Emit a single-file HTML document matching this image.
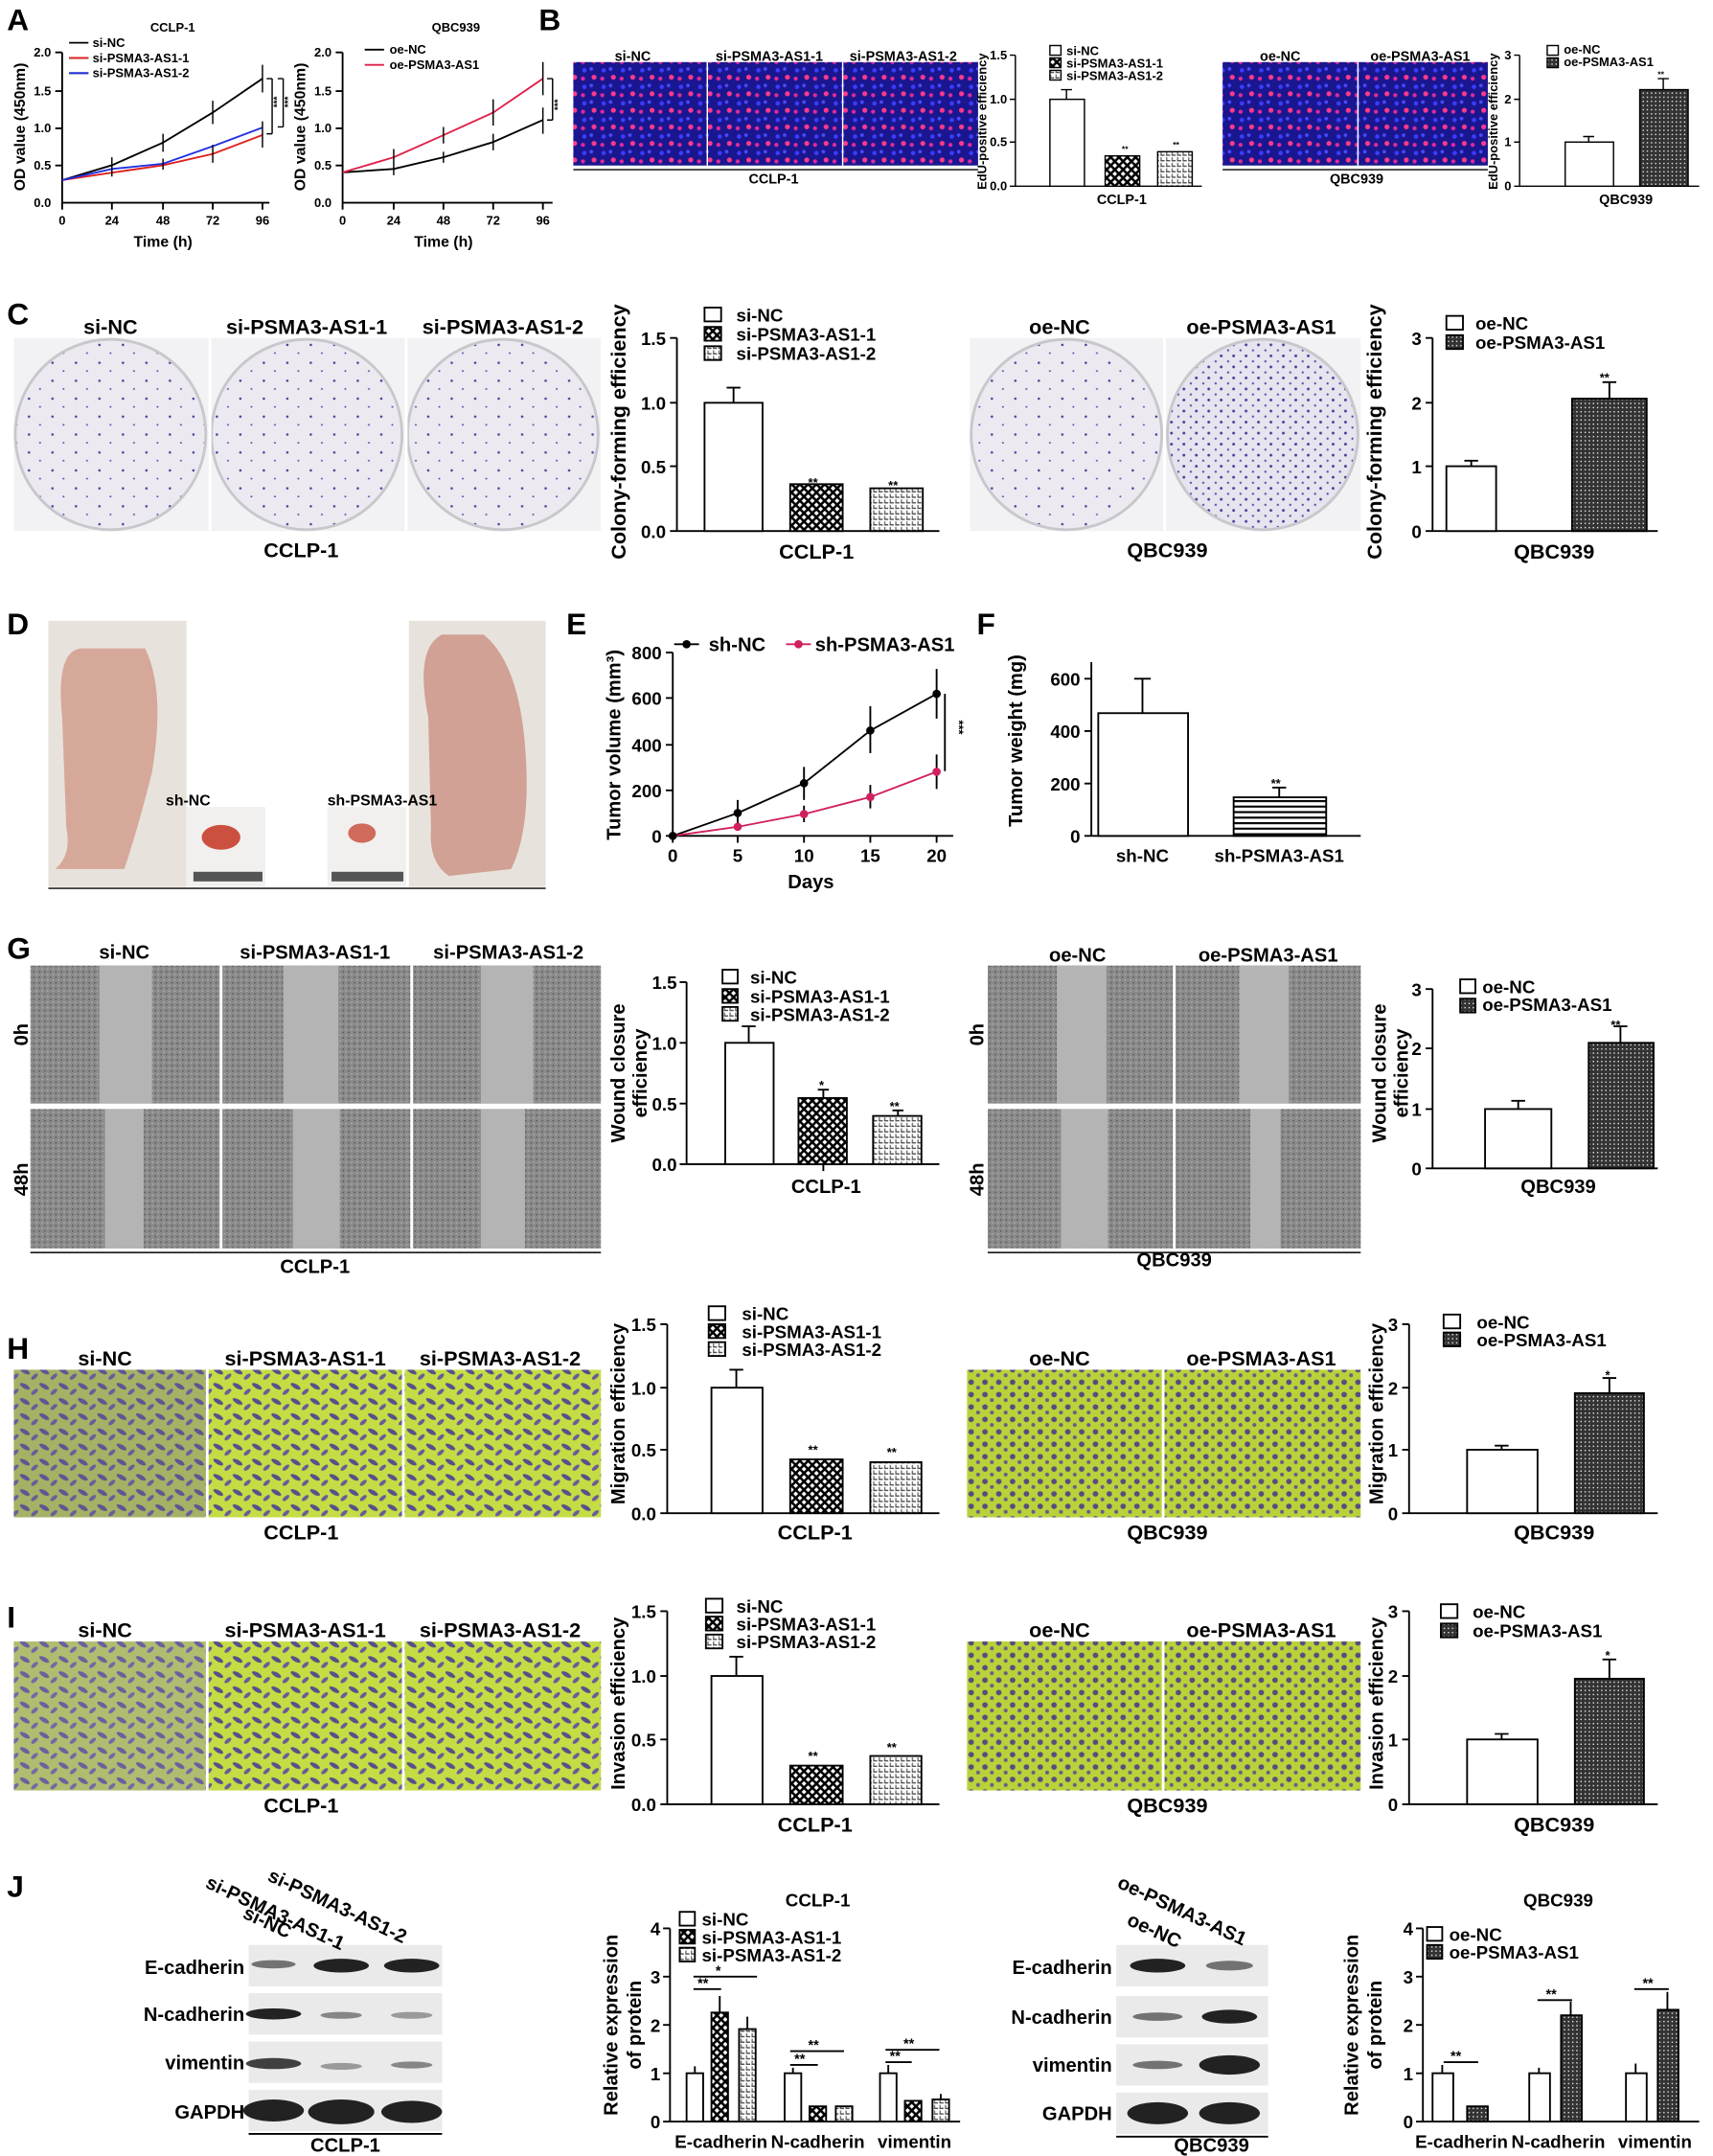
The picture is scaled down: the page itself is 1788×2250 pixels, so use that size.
<!DOCTYPE html>
<html><head><meta charset="utf-8"><style>
html,body{margin:0;padding:0;background:#fff}
svg{display:block}
text{font-family:"Liberation Sans",Arial,sans-serif;font-weight:bold;fill:#000}
</style></head><body>
<svg width="1788" height="2250" viewBox="0 0 1240 1563" preserveAspectRatio="none" xmlns="http://www.w3.org/2000/svg">
<defs>
<pattern id="cross" width="6" height="6" patternUnits="userSpaceOnUse"><rect width="6" height="6" fill="#fff"/><path d="M0 0L6 6M6 0L0 6" stroke="#000" stroke-width="1.8"/></pattern>
<pattern id="dots" width="4" height="4" patternUnits="userSpaceOnUse"><rect width="4" height="4" fill="#fff"/><rect x="0" y="0" width="3" height="1" fill="#555"/><rect x="0" y="2" width="1" height="2" fill="#777"/></pattern>
<pattern id="dark" width="3" height="3" patternUnits="userSpaceOnUse"><rect width="3" height="3" fill="#333"/><rect x="1" y="1" width="1" height="1" fill="#ddd"/></pattern>
<pattern id="hs" width="4" height="4" patternUnits="userSpaceOnUse"><rect width="4" height="4" fill="#fff"/><rect width="4" height="1.5" fill="#000"/></pattern>
<pattern id="fluo" width="14" height="12" patternUnits="userSpaceOnUse"><rect width="14" height="12" fill="#1a1690"/><circle cx="3" cy="3" r="1.6" fill="#3c3cff"/><circle cx="10" cy="8" r="1.8" fill="#ff3a8a"/><circle cx="8" cy="2" r="1.3" fill="#4a4aff"/><circle cx="2" cy="9" r="1.5" fill="#e02a9a"/></pattern>
<pattern id="colony" width="17" height="13" patternUnits="userSpaceOnUse"><rect width="17" height="13" fill="#eceaf0"/><circle cx="4" cy="3" r="0.9" fill="#5040a0"/><circle cx="12" cy="9" r="0.7" fill="#6050b0"/></pattern>
<pattern id="colony2" width="9" height="8" patternUnits="userSpaceOnUse"><rect width="9" height="8" fill="#e6e4ee"/><circle cx="2" cy="2" r="1" fill="#4a3a9a"/><circle cx="7" cy="6" r="0.8" fill="#5a4aa8"/></pattern>
<pattern id="wound" width="4" height="4" patternUnits="userSpaceOnUse"><rect width="4" height="4" fill="#8a8a8a"/><rect width="1" height="1" fill="#555"/><rect x="2" y="2" width="1" height="1" fill="#b0b0b0"/></pattern>
<pattern id="trans" width="14" height="11" patternUnits="userSpaceOnUse"><rect width="14" height="11" fill="#c5dc45"/><ellipse cx="4" cy="4" rx="4" ry="1.6" fill="#55508a" transform="rotate(30 4 4)"/><ellipse cx="11" cy="8" rx="3" ry="1.4" fill="#6a5a98" transform="rotate(-40 11 8)"/></pattern>
<pattern id="trans2" width="10" height="9" patternUnits="userSpaceOnUse"><rect width="10" height="9" fill="#b9d23a"/><circle cx="3" cy="3" r="2" fill="#5a4a80"/><circle cx="8" cy="7" r="1.4" fill="#6a5a88"/></pattern>
</defs>
<rect width="1240" height="1563" fill="#fff"/>

<!-- panel letters -->
<g font-size="22"><text x="5" y="22">A</text><text x="390" y="22">B</text><text x="5" y="235">C</text><text x="5" y="460">D</text><text x="410" y="460">E</text><text x="707" y="460">F</text><text x="5" y="695">G</text><text x="5" y="985">H</text><text x="5" y="1180">I</text><text x="5" y="1375">J</text></g>

<!-- A left -->
<g stroke="#000" fill="none" stroke-width="1.3">
<path d="M45 38V147H195M40 38H45M40 66H45M40 93H45M40 120H45M45 147V152M81 147V152M118 147V152M154 147V152M190 147V152"/>
<polyline points="45,130.6 81,119.8 118,103.4 154,81.6 190,57"/>
<polyline points="45,130.6 81,125.2 118,119.8 154,111.6 190,97.9" stroke="#e02020"/>
<polyline points="45,130.6 81,122.5 118,118.7 154,106 190,92.5" stroke="#2030e0"/>
<path d="M81 114V125M118 97V110M154 73V90M190 47V67M154 105V118M190 88V107M118 115V123M81 122V128" stroke-width="1"/>
<path d="M197 57V97M197 57H193M197 97H193M205 57V92M205 57H201M205 92H201" stroke-width="1"/>
</g>
<g font-size="9"><text x="37" y="41" text-anchor="end">2.0</text><text x="37" y="69" text-anchor="end">1.5</text><text x="37" y="96" text-anchor="end">1.0</text><text x="37" y="123" text-anchor="end">0.5</text><text x="37" y="150" text-anchor="end">0.0</text>
<text x="45" y="163" text-anchor="middle">0</text><text x="81" y="163" text-anchor="middle">24</text><text x="118" y="163" text-anchor="middle">48</text><text x="154" y="163" text-anchor="middle">72</text><text x="190" y="163" text-anchor="middle">96</text>
<text x="118" y="179" text-anchor="middle" font-size="11">Time (h)</text><text x="125" y="23" text-anchor="middle">CCLP-1</text>
<text transform="translate(18 92) rotate(-90)" text-anchor="middle" font-size="11">OD value (450nm)</text>
<text x="67" y="34">si-NC</text><text x="67" y="45" fill="#000">si-PSMA3-AS1-1</text><text x="67" y="56">si-PSMA3-AS1-2</text>
<text transform="translate(203 78) rotate(-90)" font-size="7">***</text><text transform="translate(211 78) rotate(-90)" font-size="7">***</text></g>
<path d="M50 31H64M50 42H64M50 53H64" stroke-width="1.3" stroke="#000"/><path d="M50 42H64" stroke="#e02020" stroke-width="1.3"/><path d="M50 53H64" stroke="#2030e0" stroke-width="1.3"/>

<!-- A right -->
<g stroke="#000" fill="none" stroke-width="1.3">
<path d="M248 38V147H400M243 38H248M243 66H248M243 93H248M243 120H248M248 147V152M285 147V152M321 147V152M357 147V152M393 147V152"/>
<polyline points="248,125 285,122.5 321,114 357,103 393,87"/>
<polyline points="248,125 285,114 321,98 357,81.6 393,57" stroke="#e0204a"/>
<path d="M285 118V127M321 110V118M357 97V109M393 78V97M285 108V120M321 92V104M357 72V91M393 45V69" stroke-width="1"/>
<path d="M400 57V87M400 57H396M400 87H396" stroke-width="1"/>
</g>
<g font-size="9"><text x="240" y="41" text-anchor="end">2.0</text><text x="240" y="69" text-anchor="end">1.5</text><text x="240" y="96" text-anchor="end">1.0</text><text x="240" y="123" text-anchor="end">0.5</text><text x="240" y="150" text-anchor="end">0.0</text>
<text x="248" y="163" text-anchor="middle">0</text><text x="285" y="163" text-anchor="middle">24</text><text x="321" y="163" text-anchor="middle">48</text><text x="357" y="163" text-anchor="middle">72</text><text x="393" y="163" text-anchor="middle">96</text>
<text x="321" y="179" text-anchor="middle" font-size="11">Time (h)</text><text x="330" y="23" text-anchor="middle">QBC939</text>
<text transform="translate(221 92) rotate(-90)" text-anchor="middle" font-size="11">OD value (450nm)</text>
<text x="282" y="39">oe-NC</text><text x="282" y="50">oe-PSMA3-AS1</text><text transform="translate(406 80) rotate(-90)" font-size="7">***</text></g>
<path d="M264 36H278" stroke="#000" stroke-width="1.3"/><path d="M264 47H278" stroke="#e0204a" stroke-width="1.3"/>

<!-- B images -->
<rect x="415" y="45" width="293" height="75" fill="url(#fluo)"/>
<path d="M512 45V120M610 45V120" stroke="#fff" stroke-width="1"/>
<path d="M415 123H708" stroke="#000"/>
<g font-size="10"><text x="445" y="44">si-NC</text><text x="518" y="44">si-PSMA3-AS1-1</text><text x="615" y="44">si-PSMA3-AS1-2</text></g>
<text x="560" y="133" font-size="10" text-anchor="middle">CCLP-1</text>
<rect x="885" y="45" width="192" height="75" fill="url(#fluo)"/><path d="M983 45V120" stroke="#fff"/>
<path d="M885 123H1077" stroke="#000"/>
<text x="912" y="44" font-size="10">oe-NC</text><text x="992" y="44" font-size="10">oe-PSMA3-AS1</text>
<text x="982" y="133" font-size="10" text-anchor="middle">QBC939</text>
<!-- B bars -->
<g stroke="#000" stroke-width="1">
<path d="M735 40V135H870M731 40H735M731 72H735M731 103H735M731 135H735" fill="none"/>
<rect x="760" y="72" width="25" height="63" fill="#fff"/><rect x="800" y="113" width="25" height="22" fill="url(#cross)"/><rect x="838" y="110" width="25" height="25" fill="url(#dots)"/>
<path d="M772 72V65M768 65H776" fill="none"/>
<path d="M1100 40V135H1230M1096 40H1100M1096 72H1100M1096 103H1100M1096 135H1100" fill="none"/>
<rect x="1133" y="103" width="35" height="32" fill="#fff"/><rect x="1187" y="65" width="35" height="70" fill="url(#dark)"/>
<path d="M1150 103V99M1146 99H1154M1204 65V57M1200 57H1208" fill="none"/>
<rect x="760" y="33" width="8" height="7" fill="#fff"/><rect x="760" y="42" width="8" height="7" fill="url(#cross)"/><rect x="760" y="51" width="8" height="7" fill="url(#dots)"/>
<rect x="1120" y="33" width="8" height="7" fill="#fff"/><rect x="1120" y="42" width="8" height="7" fill="url(#dark)"/>
</g>
<g font-size="9"><text x="729" y="43" text-anchor="end">1.5</text><text x="729" y="75" text-anchor="end">1.0</text><text x="729" y="106" text-anchor="end">0.5</text><text x="729" y="138" text-anchor="end">0.0</text>
<text x="772" y="40">si-NC</text><text x="772" y="49">si-PSMA3-AS1-1</text><text x="772" y="58">si-PSMA3-AS1-2</text><text x="812" y="148" text-anchor="middle" font-size="10">CCLP-1</text>
<text transform="translate(714 88) rotate(-90)" text-anchor="middle">EdU-positive efficiency</text>
<text x="1094" y="43" text-anchor="end">3</text><text x="1094" y="75" text-anchor="end">2</text><text x="1094" y="106" text-anchor="end">1</text><text x="1094" y="138" text-anchor="end">0</text>
<text x="1132" y="39">oe-NC</text><text x="1132" y="48">oe-PSMA3-AS1</text><text x="1177" y="148" text-anchor="middle" font-size="10">QBC939</text>
<text transform="translate(1084 88) rotate(-90)" text-anchor="middle">EdU-positive efficiency</text>
<text x="812" y="110" font-size="6">**</text><text x="849" y="107" font-size="6">**</text><text x="1200" y="56" font-size="6">**</text></g>

<!-- C images -->
<rect x="10" y="245" width="425" height="140" fill="#f2f2f4"/>
<g fill="url(#colony)" stroke="#c8c8cc" stroke-width="2"><circle cx="80" cy="315" r="69"/><circle cx="222" cy="315" r="69"/><circle cx="364" cy="315" r="69"/></g>
<path d="M152 245V385M294 245V385" stroke="#fff" stroke-width="2"/>
<rect x="702" y="245" width="283" height="140" fill="#f2f2f4"/>
<g stroke="#c8c8cc" stroke-width="2"><circle cx="772" cy="315" r="69" fill="url(#colony)"/><circle cx="914" cy="315" r="69" fill="url(#colony2)"/></g>
<path d="M843 245V385" stroke="#fff" stroke-width="2"/>
<g font-size="15"><text x="80" y="242" text-anchor="middle">si-NC</text><text x="222" y="242" text-anchor="middle">si-PSMA3-AS1-1</text><text x="364" y="242" text-anchor="middle">si-PSMA3-AS1-2</text>
<text x="218" y="404" text-anchor="middle">CCLP-1</text><text x="767" y="242" text-anchor="middle">oe-NC</text><text x="913" y="242" text-anchor="middle">oe-PSMA3-AS1</text><text x="845" y="404" text-anchor="middle">QBC939</text></g>
<g stroke="#000" stroke-width="1.3">
<path d="M490 245V385H680M485 245H490M485 292H490M485 338H490M485 385H490" fill="none"/>
<rect x="510" y="292" width="42" height="93" fill="#fff"/><rect x="572" y="351" width="38" height="34" fill="url(#cross)"/><rect x="630" y="354" width="38" height="31" fill="url(#dots)"/>
<path d="M531 292V281M526 281H536" fill="none"/>
<path d="M1037 245V385H1200M1032 245H1037M1032 292H1037M1032 338H1037M1032 385H1037" fill="none"/>
<rect x="1047" y="338" width="36" height="47" fill="#fff"/><rect x="1138" y="289" width="54" height="96" fill="url(#dark)"/>
<path d="M1065 338V334M1060 334H1070M1165 289V277M1160 277H1170" fill="none"/>
<rect x="510" y="223" width="12" height="10" fill="#fff"/><rect x="510" y="237" width="12" height="10" fill="url(#cross)"/><rect x="510" y="251" width="12" height="10" fill="url(#dots)"/>
<rect x="1047" y="229" width="12" height="10" fill="#fff"/><rect x="1047" y="243" width="12" height="10" fill="url(#dark)"/>
</g>
<g font-size="13"><text x="482" y="250" text-anchor="end">1.5</text><text x="482" y="297" text-anchor="end">1.0</text><text x="482" y="343" text-anchor="end">0.5</text><text x="482" y="390" text-anchor="end">0.0</text>
<text x="1029" y="250" text-anchor="end">3</text><text x="1029" y="297" text-anchor="end">2</text><text x="1029" y="343" text-anchor="end">1</text><text x="1029" y="390" text-anchor="end">0</text>
<text x="533" y="233">si-NC</text><text x="533" y="247">si-PSMA3-AS1-1</text><text x="533" y="261">si-PSMA3-AS1-2</text>
<text x="1068" y="239">oe-NC</text><text x="1068" y="253">oe-PSMA3-AS1</text>
<text x="591" y="405" text-anchor="middle" font-size="15">CCLP-1</text><text x="1125" y="405" text-anchor="middle" font-size="15">QBC939</text>
<text transform="translate(453 313) rotate(-90)" text-anchor="middle" font-size="15">Colony-forming efficiency</text>
<text transform="translate(1000 313) rotate(-90)" text-anchor="middle" font-size="15">Colony-forming efficiency</text>
<text x="585" y="353" font-size="9">**</text><text x="643" y="355" font-size="9">**</text><text x="1158" y="277" font-size="9">**</text></g>

<!-- D -->
<rect x="35" y="450" width="100" height="193" fill="#e8e2dc"/>
<rect x="296" y="450" width="99" height="193" fill="#e8e2dc"/>
<path d="M60 470 Q40 470 45 520 L48 600 Q52 620 40 630 L90 630 Q100 600 110 560 Q120 500 105 470 Z" fill="#d6a89a"/>
<path d="M320 460 Q300 470 310 520 L312 600 Q310 625 325 635 L370 630 Q385 600 380 540 Q375 480 350 460 Z" fill="#d0a194"/>
<rect x="135" y="585" width="57" height="58" fill="#f2f0ee"/><ellipse cx="160" cy="607" rx="14" ry="9" fill="#cc5040"/><rect x="140" y="632" width="50" height="7" fill="#555"/>
<rect x="237" y="585" width="57" height="58" fill="#f2f0ee"/><ellipse cx="262" cy="604" rx="10" ry="7" fill="#d06a5a"/><rect x="240" y="632" width="52" height="7" fill="#555"/>
<path d="M35 644H395" stroke="#000"/>
<text x="120" y="584" font-size="11">sh-NC</text><text x="237" y="584" font-size="11">sh-PSMA3-AS1</text>

<!-- E -->
<g stroke="#000" stroke-width="1.3" fill="none">
<path d="M487 473V606H690M482 473H487M482 506H487M482 540H487M482 573H487M482 606H487M487 606V611M534 606V611M582 606V611M630 606V611M678 606V611"/>
<polyline points="487,606 534,589.4 582,567.8 630,529.6 678,503"/>
<polyline points="487,606 534,599.4 582,590.2 630,577.8 678,559.5" stroke="#d02060"/>
<path d="M534 580V597M582 556V580M630 512V546M678 485V521M582 584V596M630 569V586M678 547V572"/>
<path d="M684 503V559"/>
</g>
<g fill="#000"><circle cx="487" cy="606" r="3"/><circle cx="534" cy="589.4" r="3"/><circle cx="582" cy="567.8" r="3"/><circle cx="630" cy="529.6" r="3"/><circle cx="678" cy="503" r="3"/><circle cx="497" cy="467" r="3"/></g>
<g fill="#d02060"><circle cx="534" cy="599.4" r="3"/><circle cx="582" cy="590.2" r="3"/><circle cx="630" cy="577.8" r="3"/><circle cx="678" cy="559.5" r="3"/><circle cx="578" cy="467" r="3"/></g>
<path d="M488 467H506" stroke="#000" stroke-width="1.3"/><path d="M569 467H587" stroke="#d02060" stroke-width="1.3"/>
<g font-size="13"><text x="479" y="478" text-anchor="end">800</text><text x="479" y="511" text-anchor="end">600</text><text x="479" y="545" text-anchor="end">400</text><text x="479" y="578" text-anchor="end">200</text><text x="479" y="611" text-anchor="end">0</text>
<text x="487" y="625" text-anchor="middle">0</text><text x="534" y="625" text-anchor="middle">5</text><text x="582" y="625" text-anchor="middle">10</text><text x="630" y="625" text-anchor="middle">15</text><text x="678" y="625" text-anchor="middle">20</text>
<text x="587" y="644" text-anchor="middle" font-size="14">Days</text>
<text x="513" y="472" font-size="14">sh-NC</text><text x="590" y="472" font-size="14">sh-PSMA3-AS1</text>
<text transform="translate(449 540) rotate(-90)" text-anchor="middle" font-size="14">Tumor volume (mm³)</text>
<text transform="translate(691 522) rotate(90)" font-size="9">***</text></g>

<!-- F -->
<g stroke="#000" stroke-width="1.3">
<path d="M790 480V606H985M785 492H790M785 530H790M785 568H790M785 606H790" fill="none"/>
<rect x="795" y="517" width="65" height="89" fill="#fff"/><rect x="893" y="578" width="67" height="28" fill="url(#hs)"/>
<path d="M827 517V492M821 492H833M926 578V571M921 571H931" fill="none"/>
</g>
<g font-size="13"><text x="782" y="497" text-anchor="end">600</text><text x="782" y="535" text-anchor="end">400</text><text x="782" y="573" text-anchor="end">200</text><text x="782" y="611" text-anchor="end">0</text>
<text x="827" y="625" text-anchor="middle">sh-NC</text><text x="926" y="625" text-anchor="middle">sh-PSMA3-AS1</text>
<text transform="translate(740 537) rotate(-90)" text-anchor="middle" font-size="14">Tumor weight (mg)</text><text x="920" y="571" font-size="9">**</text></g>

<!-- G images -->
<rect x="22" y="700" width="413" height="100" fill="url(#wound)"/><rect x="22" y="804" width="413" height="101" fill="url(#wound)"/>
<g fill="#b4b4b4"><rect x="72" y="700" width="38" height="100"/><rect x="205" y="700" width="40" height="100"/><rect x="348" y="700" width="38" height="100"/>
<rect x="76" y="804" width="28" height="101"/><rect x="212" y="804" width="34" height="101"/><rect x="348" y="804" width="32" height="101"/></g>
<path d="M160 700V905M298 700V905M22 802H435" stroke="#fff" stroke-width="2"/>
<path d="M22 908H435" stroke="#000"/>
<rect x="715" y="700" width="270" height="100" fill="url(#wound)"/><rect x="715" y="804" width="270" height="101" fill="url(#wound)"/>
<g fill="#b4b4b4"><rect x="765" y="700" width="36" height="100"/><rect x="897" y="700" width="36" height="100"/><rect x="768" y="804" width="34" height="101"/><rect x="905" y="804" width="22" height="101"/></g>
<path d="M850 700V905M715 802H985" stroke="#fff" stroke-width="2"/><path d="M715 908H985" stroke="#000"/>
<g font-size="14"><text x="90" y="695" text-anchor="middle">si-NC</text><text x="228" y="695" text-anchor="middle">si-PSMA3-AS1-1</text><text x="368" y="695" text-anchor="middle">si-PSMA3-AS1-2</text>
<text x="228" y="923" text-anchor="middle">CCLP-1</text><text x="780" y="697" text-anchor="middle">oe-NC</text><text x="918" y="697" text-anchor="middle">oe-PSMA3-AS1</text><text x="850" y="918" text-anchor="middle">QBC939</text>
<text transform="translate(20 750) rotate(-90)" text-anchor="middle">0h</text><text transform="translate(20 855) rotate(-90)" text-anchor="middle">48h</text>
<text transform="translate(712 750) rotate(-90)" text-anchor="middle">0h</text><text transform="translate(712 855) rotate(-90)" text-anchor="middle">48h</text></g>
<g stroke="#000" stroke-width="1.3">
<path d="M497 712V844H680M492 712H497M492 756H497M492 800H497M492 844H497M596 844V849" fill="none"/>
<rect x="525" y="756" width="35" height="88" fill="#fff"/><rect x="578" y="796" width="35" height="48" fill="url(#cross)"/><rect x="632" y="809" width="35" height="35" fill="url(#dots)"/>
<path d="M542 756V744M537 744H547M596 796V790M592 790H600M650 809V805M646 805H654" fill="none"/>
<path d="M1037 717V847H1200M1032 717H1037M1032 760H1037M1032 804H1037M1032 847H1037" fill="none"/>
<rect x="1075" y="804" width="48" height="43" fill="#fff"/><rect x="1150" y="756" width="47" height="91" fill="url(#dark)"/>
<path d="M1099 804V798M1094 798H1104M1173 756V744M1168 744H1178" fill="none"/>
<rect x="523" y="703" width="11" height="10" fill="#fff"/><rect x="523" y="717" width="11" height="10" fill="url(#cross)"/><rect x="523" y="730" width="11" height="10" fill="url(#dots)"/>
<rect x="1057" y="710" width="11" height="10" fill="#fff"/><rect x="1057" y="724" width="11" height="10" fill="url(#dark)"/>
</g>
<g font-size="13"><text x="490" y="717" text-anchor="end">1.5</text><text x="490" y="761" text-anchor="end">1.0</text><text x="490" y="805" text-anchor="end">0.5</text><text x="490" y="849" text-anchor="end">0.0</text>
<text x="1029" y="722" text-anchor="end">3</text><text x="1029" y="765" text-anchor="end">2</text><text x="1029" y="809" text-anchor="end">1</text><text x="1029" y="852" text-anchor="end">0</text>
<text x="543" y="713">si-NC</text><text x="543" y="727">si-PSMA3-AS1-1</text><text x="543" y="740">si-PSMA3-AS1-2</text>
<text x="1073" y="720">oe-NC</text><text x="1073" y="733">oe-PSMA3-AS1</text>
<text x="598" y="865" text-anchor="middle" font-size="14">CCLP-1</text><text x="1128" y="865" text-anchor="middle" font-size="14">QBC939</text>
<text transform="translate(452 778) rotate(-90)" text-anchor="middle" font-size="14">Wound closure</text><text transform="translate(468 778) rotate(-90)" text-anchor="middle" font-size="14">efficiency</text>
<text transform="translate(1003 778) rotate(-90)" text-anchor="middle" font-size="14">Wound closure</text><text transform="translate(1019 778) rotate(-90)" text-anchor="middle" font-size="14">efficiency</text>
<text x="593" y="790" font-size="9">*</text><text x="644" y="805" font-size="9">**</text><text x="1166" y="746" font-size="9">**</text></g>

<!-- H images -->
<rect x="10" y="993" width="425" height="107" fill="url(#trans)"/><rect x="10" y="993" width="140" height="107" fill="#6a60a0" opacity="0.35"/>
<path d="M150 993V1100M292 993V1100" stroke="#fff" stroke-width="2"/>
<rect x="700" y="993" width="285" height="107" fill="url(#trans2)"/><path d="M842 993V1100" stroke="#fff" stroke-width="2"/>
<g font-size="15"><text x="76" y="990" text-anchor="middle">si-NC</text><text x="221" y="990" text-anchor="middle">si-PSMA3-AS1-1</text><text x="362" y="990" text-anchor="middle">si-PSMA3-AS1-2</text>
<text x="218" y="1116" text-anchor="middle">CCLP-1</text><text x="767" y="990" text-anchor="middle">oe-NC</text><text x="913" y="990" text-anchor="middle">oe-PSMA3-AS1</text><text x="845" y="1116" text-anchor="middle">QBC939</text></g>
<g stroke="#000" stroke-width="1.3">
<path d="M483 960V1097H680M478 960H483M478 1006H483M478 1051H483M478 1097H483" fill="none"/>
<rect x="515" y="1006" width="37" height="91" fill="#fff"/><rect x="572" y="1058" width="38" height="39" fill="url(#cross)"/><rect x="630" y="1060" width="37" height="37" fill="url(#dots)"/>
<path d="M533 1006V993M528 993H538" fill="none"/>
<path d="M1020 960V1097H1200M1015 960H1020M1015 1006H1020M1015 1051H1020M1015 1097H1020" fill="none"/>
<rect x="1062" y="1051" width="51" height="46" fill="#fff"/><rect x="1140" y="1010" width="50" height="87" fill="url(#dark)"/>
<path d="M1087 1051V1048M1082 1048H1092M1165 1010V999M1160 999H1170" fill="none"/>
<rect x="513" y="947" width="12" height="10" fill="#fff"/><rect x="513" y="960" width="12" height="10" fill="url(#cross)"/><rect x="513" y="973" width="12" height="10" fill="url(#dots)"/>
<rect x="1045" y="953" width="12" height="10" fill="#fff"/><rect x="1045" y="966" width="12" height="10" fill="url(#dark)"/>
</g>
<g font-size="13"><text x="475" y="965" text-anchor="end">1.5</text><text x="475" y="1011" text-anchor="end">1.0</text><text x="475" y="1056" text-anchor="end">0.5</text><text x="475" y="1102" text-anchor="end">0.0</text>
<text x="1012" y="965" text-anchor="end">3</text><text x="1012" y="1011" text-anchor="end">2</text><text x="1012" y="1056" text-anchor="end">1</text><text x="1012" y="1102" text-anchor="end">0</text>
<text x="537" y="957">si-NC</text><text x="537" y="970">si-PSMA3-AS1-1</text><text x="537" y="983">si-PSMA3-AS1-2</text>
<text x="1069" y="963">oe-NC</text><text x="1069" y="976">oe-PSMA3-AS1</text>
<text x="590" y="1116" text-anchor="middle" font-size="15">CCLP-1</text><text x="1125" y="1116" text-anchor="middle" font-size="15">QBC939</text>
<text transform="translate(452 1025) rotate(-90)" text-anchor="middle" font-size="14">Migration efficiency</text>
<text transform="translate(1001 1025) rotate(-90)" text-anchor="middle" font-size="14">Migration efficiency</text>
<text x="585" y="1054" font-size="9">**</text><text x="642" y="1056" font-size="9">**</text><text x="1162" y="1000" font-size="9">*</text></g>

<!-- I images -->
<rect x="10" y="1190" width="425" height="108" fill="url(#trans)"/><rect x="10" y="1190" width="140" height="108" fill="#8a80c0" opacity="0.35"/>
<path d="M150 1190V1298M292 1190V1298" stroke="#fff" stroke-width="2"/>
<rect x="700" y="1190" width="285" height="108" fill="url(#trans2)"/><path d="M842 1190V1298" stroke="#fff" stroke-width="2"/>
<g font-size="15"><text x="76" y="1187" text-anchor="middle">si-NC</text><text x="221" y="1187" text-anchor="middle">si-PSMA3-AS1-1</text><text x="362" y="1187" text-anchor="middle">si-PSMA3-AS1-2</text>
<text x="218" y="1314" text-anchor="middle">CCLP-1</text><text x="767" y="1187" text-anchor="middle">oe-NC</text><text x="913" y="1187" text-anchor="middle">oe-PSMA3-AS1</text><text x="845" y="1314" text-anchor="middle">QBC939</text></g>
<g stroke="#000" stroke-width="1.3">
<path d="M483 1168V1308H680M478 1168H483M478 1215H483M478 1261H483M478 1308H483" fill="none"/>
<rect x="515" y="1215" width="37" height="93" fill="#fff"/><rect x="572" y="1280" width="38" height="28" fill="url(#cross)"/><rect x="630" y="1273" width="37" height="35" fill="url(#dots)"/>
<path d="M533 1215V1201M528 1201H538" fill="none"/>
<path d="M1020 1168V1308H1200M1015 1168H1020M1015 1215H1020M1015 1261H1020M1015 1308H1020" fill="none"/>
<rect x="1062" y="1261" width="51" height="47" fill="#fff"/><rect x="1140" y="1217" width="50" height="91" fill="url(#dark)"/>
<path d="M1087 1261V1257M1082 1257H1092M1165 1217V1203M1160 1203H1170" fill="none"/>
<rect x="511" y="1159" width="12" height="10" fill="#fff"/><rect x="511" y="1172" width="12" height="10" fill="url(#cross)"/><rect x="511" y="1185" width="12" height="10" fill="url(#dots)"/>
<rect x="1043" y="1163" width="12" height="10" fill="#fff"/><rect x="1043" y="1177" width="12" height="10" fill="url(#dark)"/>
</g>
<g font-size="13"><text x="475" y="1173" text-anchor="end">1.5</text><text x="475" y="1220" text-anchor="end">1.0</text><text x="475" y="1266" text-anchor="end">0.5</text><text x="475" y="1313" text-anchor="end">0.0</text>
<text x="1012" y="1173" text-anchor="end">3</text><text x="1012" y="1220" text-anchor="end">2</text><text x="1012" y="1266" text-anchor="end">1</text><text x="1012" y="1313" text-anchor="end">0</text>
<text x="533" y="1169">si-NC</text><text x="533" y="1182">si-PSMA3-AS1-1</text><text x="533" y="1195">si-PSMA3-AS1-2</text>
<text x="1066" y="1173">oe-NC</text><text x="1066" y="1187">oe-PSMA3-AS1</text>
<text x="590" y="1328" text-anchor="middle" font-size="15">CCLP-1</text><text x="1125" y="1328" text-anchor="middle" font-size="15">QBC939</text>
<text transform="translate(452 1235) rotate(-90)" text-anchor="middle" font-size="14">Invasion efficiency</text>
<text transform="translate(1001 1235) rotate(-90)" text-anchor="middle" font-size="14">Invasion efficiency</text>
<text x="585" y="1276" font-size="9">**</text><text x="642" y="1270" font-size="9">**</text><text x="1162" y="1203" font-size="9">*</text></g>

<!-- J blots -->
<g fill="#eaeaea"><rect x="180" y="1410" width="140" height="30"/><rect x="180" y="1445" width="140" height="30"/><rect x="180" y="1480" width="140" height="30"/><rect x="180" y="1515" width="140" height="30"/>
<rect x="808" y="1410" width="110" height="30"/><rect x="808" y="1447" width="110" height="30"/><rect x="808" y="1482" width="110" height="30"/><rect x="808" y="1517" width="110" height="30"/></g>
<g fill="#222">
<ellipse cx="198" cy="1424" rx="16" ry="3" opacity="0.6"/><ellipse cx="247" cy="1425" rx="20" ry="5"/><ellipse cx="298" cy="1425" rx="20" ry="5"/>
<ellipse cx="198" cy="1460" rx="20" ry="4"/><ellipse cx="247" cy="1461" rx="15" ry="2.5" opacity="0.5"/><ellipse cx="298" cy="1461" rx="15" ry="2.5" opacity="0.4"/>
<ellipse cx="198" cy="1496" rx="20" ry="4" opacity="0.85"/><ellipse cx="247" cy="1498" rx="15" ry="2.5" opacity="0.4"/><ellipse cx="298" cy="1497" rx="15" ry="2.5" opacity="0.5"/>
<ellipse cx="198" cy="1530" rx="22" ry="8"/><ellipse cx="247" cy="1531" rx="24" ry="9"/><ellipse cx="298" cy="1531" rx="22" ry="8"/>
<ellipse cx="838" cy="1425" rx="20" ry="5"/><ellipse cx="890" cy="1425" rx="17" ry="3.5" opacity="0.6"/>
<ellipse cx="838" cy="1462" rx="18" ry="3" opacity="0.6"/><ellipse cx="890" cy="1462" rx="20" ry="5"/>
<ellipse cx="838" cy="1497" rx="18" ry="3" opacity="0.6"/><ellipse cx="890" cy="1497" rx="22" ry="7"/>
<ellipse cx="838" cy="1532" rx="22" ry="8"/><ellipse cx="890" cy="1532" rx="22" ry="8"/></g>
<path d="M180 1547H320M808 1549H918" stroke="#000" stroke-width="1.3"/>
<g font-size="14"><text x="177" y="1431" text-anchor="end">E-cadherin</text><text x="177" y="1465" text-anchor="end">N-cadherin</text><text x="177" y="1500" text-anchor="end">vimentin</text><text x="177" y="1536" text-anchor="end">GAPDH</text>
<text x="250" y="1560" text-anchor="middle">CCLP-1</text>
<text x="805" y="1431" text-anchor="end">E-cadherin</text><text x="805" y="1467" text-anchor="end">N-cadherin</text><text x="805" y="1502" text-anchor="end">vimentin</text><text x="805" y="1537" text-anchor="end">GAPDH</text>
<text x="877" y="1560" text-anchor="middle">QBC939</text>
<text transform="translate(175 1390) rotate(25)">si-NC</text><text transform="translate(148 1368) rotate(25)">si-PSMA3-AS1-1</text><text transform="translate(193 1363) rotate(25)">si-PSMA3-AS1-2</text>
<text transform="translate(815 1395) rotate(25)">oe-NC</text><text transform="translate(808 1368) rotate(25)">oe-PSMA3-AS1</text></g>
<!-- J charts -->
<g stroke="#000" stroke-width="1.3">
<path d="M485 1398V1538H695M480 1398H485M480 1433H485M480 1468H485M480 1503H485M480 1538H485" fill="none"/>
<rect x="497" y="1503" width="12" height="35" fill="#fff"/><rect x="515" y="1459" width="12" height="79" fill="url(#cross)"/><rect x="535" y="1471" width="12" height="67" fill="url(#dots)"/>
<rect x="568" y="1503" width="12" height="35" fill="#fff"/><rect x="586" y="1527" width="12" height="11" fill="url(#cross)"/><rect x="605" y="1527" width="12" height="11" fill="url(#dots)"/>
<rect x="637" y="1503" width="12" height="35" fill="#fff"/><rect x="655" y="1523" width="12" height="15" fill="url(#cross)"/><rect x="675" y="1522" width="12" height="16" fill="url(#dots)"/>
<path d="M503 1503V1498M521 1459V1447M541 1471V1462M574 1503V1499M643 1503V1497M681 1522V1518M502 1442H522M502 1433H548M572 1497H592M572 1487H611M641 1495H660M641 1486H680" fill="none"/>
<path d="M1030 1398V1538H1230M1025 1398H1030M1025 1433H1030M1025 1468H1030M1025 1503H1030M1025 1538H1030" fill="none"/>
<rect x="1037" y="1503" width="15" height="35" fill="#fff"/><rect x="1062" y="1527" width="15" height="11" fill="url(#dark)"/>
<rect x="1107" y="1503" width="15" height="35" fill="#fff"/><rect x="1130" y="1461" width="15" height="77" fill="url(#dark)"/>
<rect x="1177" y="1503" width="15" height="35" fill="#fff"/><rect x="1200" y="1457" width="15" height="81" fill="url(#dark)"/>
<path d="M1044 1503V1497M1114 1503V1499M1137 1461V1451M1184 1503V1496M1207 1457V1444M1045 1495H1070M1113 1450H1138M1183 1442H1208" fill="none"/>
<rect x="492" y="1386" width="11" height="10" fill="#fff"/><rect x="492" y="1399" width="11" height="10" fill="url(#cross)"/><rect x="492" y="1412" width="11" height="10" fill="url(#dots)"/>
<rect x="1033" y="1397" width="11" height="10" fill="#fff"/><rect x="1033" y="1410" width="11" height="10" fill="url(#dark)"/>
</g>
<g font-size="13"><text x="478" y="1403" text-anchor="end">4</text><text x="478" y="1438" text-anchor="end">3</text><text x="478" y="1473" text-anchor="end">2</text><text x="478" y="1508" text-anchor="end">1</text><text x="478" y="1543" text-anchor="end">0</text>
<text x="1023" y="1403" text-anchor="end">4</text><text x="1023" y="1438" text-anchor="end">3</text><text x="1023" y="1473" text-anchor="end">2</text><text x="1023" y="1508" text-anchor="end">1</text><text x="1023" y="1543" text-anchor="end">0</text>
<text x="592" y="1382" text-anchor="middle">CCLP-1</text><text x="1128" y="1382" text-anchor="middle">QBC939</text>
<text x="508" y="1396">si-NC</text><text x="508" y="1409">si-PSMA3-AS1-1</text><text x="508" y="1422">si-PSMA3-AS1-2</text>
<text x="1049" y="1407">oe-NC</text><text x="1049" y="1420">oe-PSMA3-AS1</text>
<text x="522" y="1557" text-anchor="middle">E-cadherin</text><text x="592" y="1557" text-anchor="middle">N-cadherin</text><text x="662" y="1557" text-anchor="middle">vimentin</text>
<text x="1058" y="1557" text-anchor="middle">E-cadherin</text><text x="1128" y="1557" text-anchor="middle">N-cadherin</text><text x="1198" y="1557" text-anchor="middle">vimentin</text>
<text transform="translate(447 1468) rotate(-90)" text-anchor="middle" font-size="14">Relative expression</text><text transform="translate(464 1468) rotate(-90)" text-anchor="middle" font-size="14">of protein</text>
<text transform="translate(983 1468) rotate(-90)" text-anchor="middle" font-size="14">Relative expression</text><text transform="translate(1000 1468) rotate(-90)" text-anchor="middle" font-size="14">of protein</text>
<g font-size="10"><text x="505" y="1441">**</text><text x="518" y="1432">*</text><text x="575" y="1496">**</text><text x="585" y="1486">**</text><text x="644" y="1494">**</text><text x="654" y="1485">**</text><text x="1050" y="1494">**</text><text x="1119" y="1449">**</text><text x="1189" y="1441">**</text></g></g>
</svg>
</body></html>
